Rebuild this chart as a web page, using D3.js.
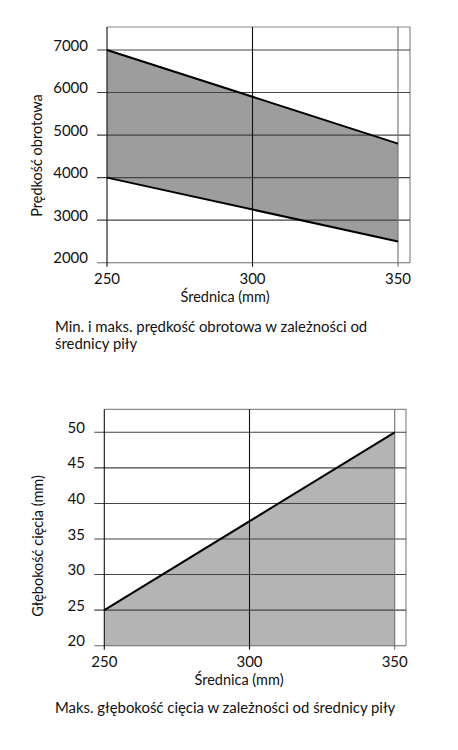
<!DOCTYPE html>
<html><head><meta charset="utf-8">
<script src="https://cdn.jsdelivr.net/npm/d3@7"></script>
<style>
html,body{margin:0;padding:0;background:#fff;}
text{font-family:Lato,"Open Sans",sans-serif;fill:#111;}
</style></head>
<body>
<svg id="c" width="458" height="750"></svg>
<script>
// ---- data ----
const xTicks = [250, 300, 350];
const speedDiameter = [250, 350];
const speedMax = [7000, 4800];
const speedMin = [4000, 2500];
const speedTicks = [2000, 3000, 4000, 5000, 6000, 7000];
const depthDiameter = [250, 350];
const depthMax = [25, 50];
const depthTicks = [20, 25, 30, 35, 40, 45, 50];
const speedYTitle = "Prędkość obrotowa";
const depthYTitle = "Głębokość cięcia (mm)";
const xTitle = "Średnica (mm)";
const speedCaption = ["Min. i maks. prędkość obrotowa w zależności od", "średnicy piły"];
const depthCaption = ["Maks. głębokość cięcia w zależności od średnicy piły"];

const svg = d3.select("#c");

function panel(cfg) {
  const g = svg.append("g");
  const x = d3.scaleLinear().domain([250, 350]).range([cfg.x0, cfg.x1]);
  const y = d3.scaleLinear().domain(cfg.yDomain).range([cfg.y0, cfg.y1]);

  const pts = cfg.diam.map((d, i) => ({ d, hi: cfg.hi[i], lo: cfg.lo ? cfg.lo[i] : cfg.yDomain[0] }));
  const area = d3.area().x(p => x(p.d)).y0(p => y(p.lo)).y1(p => y(p.hi));
  g.append("path").datum(pts).attr("d", area).attr("fill", cfg.fill);

  g.append("path")
    .attr("d", `M${x(250)},${cfg.top}H${cfg.right}V${y(cfg.yDomain[0])}`)
    .attr("fill", "none").attr("stroke", "#8a8a8a").attr("stroke-width", 1.2);

  g.selectAll(".hg").data(cfg.yTicks).join("line")
    .attr("x1", cfg.gridLeft).attr("x2", cfg.right)
    .attr("y1", d => y(d)).attr("y2", d => y(d))
    .attr("stroke", d => d === cfg.yDomain[0] ? "#6a6a6a" : "#444")
    .attr("stroke-width", 1.1);

  g.selectAll(".vg").data(xTicks).join("line")
    .attr("x1", d => x(d)).attr("x2", d => x(d))
    .attr("y1", cfg.top).attr("y2", y(cfg.yDomain[0]) + 4)
    .attr("stroke", d => d === 350 ? "#707070" : "#111")
    .attr("stroke-width", 1.1);

  const line = d3.line().x(p => x(p[0])).y(p => y(p[1]));
  g.append("path").datum(cfg.diam.map((d, i) => [d, cfg.hi[i]])).attr("d", line)
    .attr("fill", "none").attr("stroke", "#000").attr("stroke-width", 2);
  if (cfg.lo) {
    g.append("path").datum(cfg.diam.map((d, i) => [d, cfg.lo[i]])).attr("d", line)
      .attr("fill", "none").attr("stroke", "#000").attr("stroke-width", 2);
  }

  g.selectAll(".yl").data(cfg.yTicks).join("text")
    .attr("x", cfg.yLabelX).attr("y", d => y(d) + 0.5)
    .attr("text-anchor", "end").attr("font-size", 15).text(d => d);

  g.selectAll(".xl").data(xTicks).join("text")
    .attr("x", d => x(d)).attr("y", y(cfg.yDomain[0]) + 21.5)
    .attr("text-anchor", "middle").attr("font-size", 15).text(d => d);

  g.append("text").attr("x", cfg.xTitleX).attr("y", y(cfg.yDomain[0]) + 39.5)
    .attr("text-anchor", "middle").attr("font-size", 14.5).text(xTitle);

  g.append("text").attr("transform", `translate(${cfg.yTitleX},${cfg.yTitleY}) rotate(-90)`)
    .attr("text-anchor", "middle").attr("dy", "0.35em").attr("font-size", 14.5).text(cfg.yTitle);

  g.selectAll(".cap").data(cfg.caption).join("text")
    .attr("x", 55).attr("y", (d, i) => cfg.capY + i * 17)
    .attr("font-size", 14.9).text(d => d);
}

panel({
  x0: 107, x1: 398, y0: 262.7, y1: 50, yDomain: [2000, 7000],
  top: 27, right: 410, gridLeft: 97, yLabelX: 88,
  diam: speedDiameter, hi: speedMax, lo: speedMin, fill: "#9d9d9d",
  yTicks: speedTicks, xTitleX: 225, yTitle: speedYTitle, yTitleX: 37, yTitleY: 155.5,
  caption: speedCaption, capY: 332
});

panel({
  x0: 104.3, x1: 394.7, y0: 645.7, y1: 432.3, yDomain: [20, 50],
  top: 409.3, right: 406, gridLeft: 94.3, yLabelX: 85,
  diam: depthDiameter, hi: depthMax, lo: null, fill: "#b4b4b4",
  yTicks: depthTicks, xTitleX: 239, yTitle: depthYTitle, yTitleX: 37.5, yTitleY: 546,
  caption: depthCaption, capY: 713
});
</script>
</body></html>
